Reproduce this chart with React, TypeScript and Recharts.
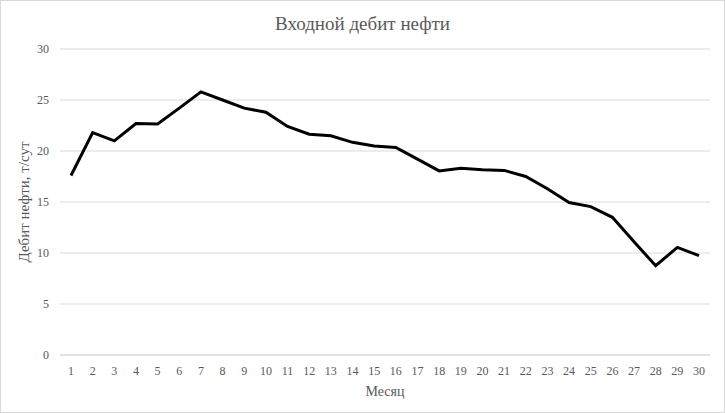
// Входной дебит нефти — line chart
import React from 'react';
import { LineChart, Line, XAxis, YAxis, CartesianGrid } from 'recharts';

const months: string[] = Array.from({ length: 30 }, (_, i) => String(i + 1));

const oilRate: number[] = [
  17.6, 21.8, 21.0, 22.7, 22.65, 24.2, 25.8, 25.0, 24.2, 23.8,
  22.4, 21.65, 21.5, 20.85, 20.5, 20.35, 19.2, 18.05, 18.3, 18.15,
  18.1, 17.5, 16.3, 14.95, 14.55, 13.5, 11.1, 8.75, 10.55, 9.75,
];

const yTicks: number[] = [0, 5, 10, 15, 20, 25, 30];

const data = months.map((m, i) => ({ month: m, rate: oilRate[i] }));

const FONT = "'Liberation Serif', 'Times New Roman', serif";
const GRAY = '#595959';

const tickStyle = { fill: GRAY, fontSize: 12, fontFamily: FONT, style: { fontFamily: FONT } };

const App: React.FC = () => {
  return (
    <div
      style={{
        position: 'fixed',
        left: 0,
        top: 0,
        width: 725,
        height: 413,
        boxSizing: 'border-box',
        border: '1px solid #d9d9d9',
        background: '#fff',
        fontFamily: FONT,
      }}
    >
      <div
        style={{
          position: 'absolute',
          top: 12,
          left: 0,
          width: '100%',
          textAlign: 'center',
          fontSize: 19,
          color: GRAY,
        }}
      >
        Входной дебит нефти
      </div>
      <div style={{ position: 'absolute', left: -1, top: -1 }}>
        <LineChart
          width={725}
          height={413}
          data={data}
          margin={{ top: 49, right: 15, left: 0, bottom: 0 }}
          style={{ fontFamily: FONT }}
        >
          <CartesianGrid vertical={false} stroke="#d9d9d9" strokeWidth={1} />
          <XAxis
            dataKey="month"
            height={58}
            padding={{ left: 11, right: 11 }}
            tick={tickStyle}
            tickLine={false}
            axisLine={{ stroke: '#d9d9d9' }}
            tickMargin={5}
            interval={0}
            label={{
              value: 'Месяц',
              position: 'insideBottom',
              offset: 17,
              fontSize: 14,
              style: { fill: GRAY, fontFamily: FONT },
            }}
          />
          <YAxis
            width={60}
            domain={[0, 30]}
            ticks={yTicks}
            tick={tickStyle}
            tickLine={false}
            axisLine={false}
            tickMargin={5}
            label={{
              value: 'Дебит нефти, т/сут',
              angle: -90,
              position: 'insideLeft',
              offset: 24,
              fontSize: 15,
              style: { textAnchor: 'middle', fill: GRAY, fontFamily: FONT },
            }}
          />
          <Line
            type="linear"
            dataKey="rate"
            stroke="#000"
            strokeWidth={3}
            dot={false}
            isAnimationActive={false}
          />
        </LineChart>
      </div>
    </div>
  );
};

export default App;
